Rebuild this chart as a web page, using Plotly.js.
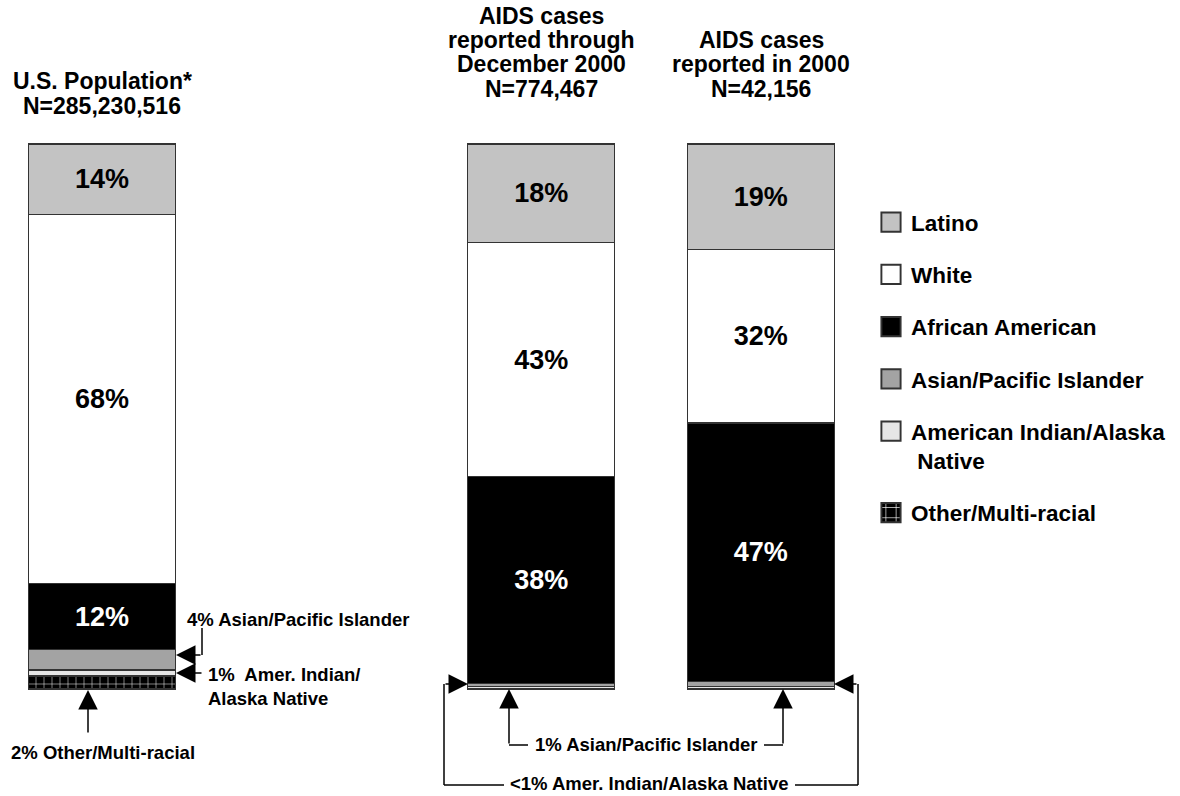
<!DOCTYPE html>
<html><head><meta charset="utf-8">
<script src="https://cdn.plot.ly/plotly-3.0.1.min.js"></script>
<style>html,body{margin:0;padding:0;background:#fff}#chart{width:1180px;height:796px}</style>
</head><body><div id="chart"></div>
<script>
// ---- data (percent of each group) ----
const groups = ['U.S. Population', 'AIDS cases through Dec 2000', 'AIDS cases in 2000'];
const other      = [2.4, 0, 0];
const amerIndian = [1.1, 0.4, 0.5];
const asianPI    = [3.7, 0.6, 0.9];
const african    = [12.1, 38.0, 47.4];
const white      = [67.7, 42.9, 31.9];
const latino     = [13.0, 18.1, 19.3];

const latinoLabels  = ['14%', '18%', '19%'];
const whiteLabels   = ['68%', '43%', '32%'];
const africanLabels = ['12%', '38%', '47%'];

const titleUS   = ['U.S. Population*', 'N=285,230,516'];
const titleThru = ['AIDS cases', 'reported through', 'December 2000', 'N=774,467'];
const titleIn   = ['AIDS cases', 'reported in 2000', 'N=42,156'];

const legendNames = ['Other/Multi-racial', 'American Indian/Alaska<br>\u00a0Native', 'Asian/Pacific Islander',
                     'African American', 'White', 'Latino'];

// ---- styling ----
const FONT = 'Liberation Sans, Arial, Helvetica, sans-serif';
const W = 1180, H = 796;
const px = x => x / W;
const py = y => 1 - y / H;
const edge = {color: '#333', width: 1.2};

function bar(i, y, color, extra) {
  return Object.assign({
    type: 'bar', x: groups, y: y, name: legendNames[i], legendgroup: 'g' + i,
    legendrank: 100 - i,
    marker: {color: color, line: edge},
    hoverinfo: 'name+y'
  }, extra || {});
}
function labelled(text, color) {
  return {text: text, textposition: 'inside', insidetextanchor: 'middle', textangle: 0,
          constraintext: 'none', texttemplate: '%{text}',
          insidetextfont: {family: FONT, size: 27, weight: 700, color: color}};
}

const traces = [
  bar(0, other, '#000', {marker: {color: '#000', line: edge,
      pattern: {shape: '+', fgcolor: '#fff', bgcolor: '#000', size: 8, solidity: 0.12}}}),
  bar(1, amerIndian, '#e6e6e6'),
  bar(2, asianPI, '#a3a3a3'),
  bar(3, african, '#000', labelled(africanLabels, '#fff')),
  bar(4, white, '#fff', labelled(whiteLabels, '#000')),
  bar(5, latino, '#c3c3c3', labelled(latinoLabels, '#000'))
];

const ann = [];
function txt(t, x, y, size, xanchor, align) {
  ann.push({xref: 'paper', yref: 'paper', x: px(x), y: py(y), text: t, showarrow: false,
    xanchor: xanchor || 'center', yanchor: 'middle', align: align || 'center',
    font: {family: FONT, size: size, weight: 700, color: '#000'}});
}
function arrow(hx, hy, tx, ty) {
  ann.push({xref: 'paper', yref: 'paper', x: px(hx), y: py(hy), ax: tx - hx, ay: ty - hy,
    text: '', showarrow: true, arrowhead: 2, arrowsize: 2.6, arrowwidth: 1.5,
    arrowcolor: '#000', standoff: 0});
}
const shapes = [];
function seg(x0, y0, x1, y1) {
  shapes.push({type: 'line', xref: 'paper', yref: 'paper', x0: px(x0), y0: py(y0), x1: px(x1), y1: py(y1),
    line: {color: '#000', width: 1.5}});
}

// titles
[81, 106].forEach((y, i) => txt(titleUS[i], 102, y, 23));
[16, 40, 64, 89].forEach((y, i) => txt(titleThru[i], 541, y, 23));
[40, 64, 89].forEach((y, i) => txt(titleIn[i], 761, y, 23));

// call-outs, bar 1
txt('4% Asian/Pacific Islander', 185, 619, 18.5, 'left');
seg(202, 628, 202, 655); arrow(176, 655, 202, 655);
txt('1%\u00a0 Amer. Indian/<br>Alaska Native', 206, 686, 18.5, 'left', 'left');
arrow(176, 673, 203, 673);
txt('2% Other/Multi-racial', 103, 752, 18.5);
arrow(88, 690, 88, 734);

// call-outs, bars 2 and 3
txt('1% Asian/Pacific Islander', 646, 744, 18.5);
seg(509, 745, 528, 745); arrow(509, 689, 509, 745);
seg(764, 745, 783, 745); arrow(783, 689, 783, 745);
txt('<1% Amer. Indian/Alaska Native', 649, 783, 18.5);
seg(444, 684, 444, 785); seg(444, 785, 504, 785); arrow(468, 684, 444, 684);
seg(858, 684, 858, 785); seg(795, 785, 858, 785); arrow(834, 684, 858, 684);

const layout = {
  width: W, height: H, margin: {l: 0, r: 0, t: 0, b: 0},
  paper_bgcolor: '#fff', plot_bgcolor: '#fff',
  barmode: 'stack', bargap: 0.331,
  xaxis: {type: 'category', categoryorder: 'array', categoryarray: [groups[0], ' ', groups[1], groups[2]],
          range: [-0.4645, 4.9089], visible: false, fixedrange: true},
  yaxis: {range: [-19.633, 126.422], visible: false, fixedrange: true},
  showlegend: true,
  legend: {x: px(871), y: py(201), xanchor: 'left', yanchor: 'top', traceorder: 'grouped',
           tracegroupgap: 20, valign: 'top', bgcolor: 'rgba(0,0,0,0)',
           font: {family: FONT, size: 22.5, weight: 700, color: '#000'}},
  annotations: ann, shapes: shapes,
  font: {family: FONT}
};

Plotly.newPlot('chart', traces, layout, {displayModeBar: false, staticPlot: true}).then(() => {
  document.querySelectorAll('.legend .legendpoints path').forEach(p => {
    const t = p.getAttribute('transform') || '';
    p.setAttribute('transform', t + ' scale(1.6)');
  });
});
</script>
</body></html>
